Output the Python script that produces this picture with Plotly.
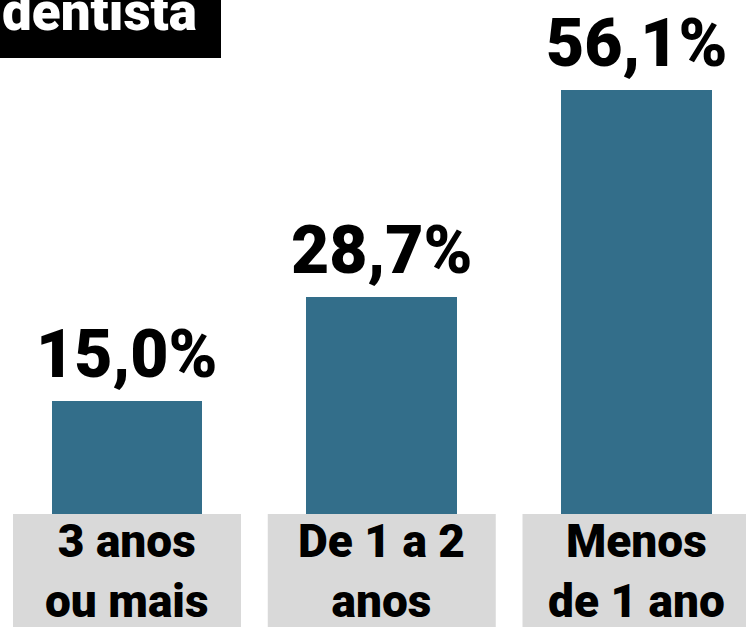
import plotly.graph_objects as go

categories = ["3 anos<br>ou mais", "De 1 a 2<br>anos", "Menos<br>de 1 ano"]
values = [15.0, 28.7, 56.1]
value_labels = ["15,0%", "28,7%", "56,1%"]
title_text = "dentista"

BAR_COLOR = "#336e8a"
BOX_COLOR = "#d9d9d9"
FONT = "Roboto, Arial, sans-serif"

xs = list(range(len(categories)))

fig = go.Figure()
fig.add_trace(go.Bar(
    x=xs, y=values, width=0.5927,
    marker=dict(color=BAR_COLOR, line=dict(width=0)),
    hoverinfo="skip",
))

shapes = []
annotations = []
for i, (cat, v, lab) in enumerate(zip(categories, values, value_labels)):
    shapes.append(dict(type="rect", xref="x", yref="y",
                       x0=i - 0.4475, x1=i + 0.4475, y0=0, y1=-14.95,
                       fillcolor=BOX_COLOR, line=dict(width=0), layer="below"))
    annotations.append(dict(x=i, y=v, xref="x", yref="y", text=lab,
                            showarrow=False, yanchor="bottom", yshift=6,
                            font=dict(family=FONT, size=66, color="black", weight=900)))
    annotations.append(dict(x=i, y=-7.5, xref="x", yref="y", text=cat,
                            showarrow=False, yanchor="middle", borderpad=0,
                            font=dict(family=FONT, size=46, color="black", weight=900)))

shapes.append(dict(type="rect", xref="paper", yref="paper",
                   x0=0, x1=221 / 746, y0=1 - 58 / 629, y1=1.05,
                   fillcolor="black", line=dict(width=0), layer="above"))
annotations.append(dict(x=0, y=1 - 12 / 629, xref="paper", yref="paper",
                        text=title_text, showarrow=False, xanchor="left", yanchor="middle",
                        font=dict(family=FONT, size=53, color="white", weight=900)))

fig.update_layout(
    width=746, height=629,
    margin=dict(l=0, r=0, t=0, b=0),
    paper_bgcolor="white", plot_bgcolor="white",
    showlegend=False,
    xaxis=dict(range=[-0.4985, 2.4298], visible=False, fixedrange=True),
    yaxis=dict(range=[-15.22, 68.01], visible=False, fixedrange=True),
    shapes=shapes, annotations=annotations,
    bargap=0,
)

fig.write_html("out.html", config={"displayModeBar": False},
               post_script="document.body.style.margin='0';document.body.style.overflow='hidden';")
